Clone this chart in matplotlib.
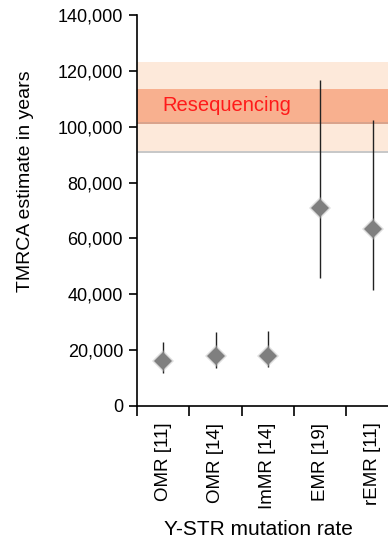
import matplotlib
matplotlib.use('Agg')
import matplotlib.pyplot as plt
import numpy as np

plt.rcParams['font.family'] = ['Liberation Sans', 'DejaVu Sans']

# data
labels = ['OMR [11]', 'OMR [14]', 'ImMR [14]', 'EMR [19]', 'rEMR [11]']
estimate = [15900, 17900, 18000, 70800, 63400]
upper = [23000, 26500, 26900, 116700, 102400]
lower = [11800, 13600, 14000, 45800, 41500]

reseq_outer = (91300, 123200)
reseq_inner = (101700, 113500)
yticks = [0, 20000, 40000, 60000, 80000, 100000, 120000, 140000]

fig = plt.figure(figsize=(3.88, 5.47), dpi=100)
ax = fig.add_axes([0.353, 0.258, 0.675, 0.7146])

x = np.arange(1, len(labels) + 1)

# resequencing bands with a soft shadow under them
ax.axhspan(reseq_outer[0] - 900, reseq_outer[0], color='#c8c8c8', lw=0, zorder=0)
ax.axhspan(*reseq_outer, color='#fde9da', lw=0, zorder=1)
ax.axhspan(reseq_inner[0] - 700, reseq_inner[0], color='#d9a38c', lw=0, zorder=1)
ax.axhspan(*reseq_inner, color='#f8b08f', lw=0, zorder=2)
ax.text(0.99, np.mean(reseq_inner), 'Resequencing', color='#ff1a1a',
        fontsize=14.5, va='center', ha='left', zorder=3)

yerr = [np.array(estimate) - np.array(lower), np.array(upper) - np.array(estimate)]
ax.errorbar(x, estimate, yerr=yerr, fmt='none', ecolor='#222222', elinewidth=1, capsize=0, zorder=4)
ax.plot(x, estimate, 'D', color='#bdbdbd', markersize=11, markeredgewidth=0, alpha=0.5, zorder=5)
ax.plot(x, estimate, 'D', color='#7f7f7f', markersize=9, markeredgewidth=0, zorder=6)

ax.set_xlim(0.5, 5.37)
ax.set_ylim(0, 140000)
ax.set_yticks(yticks)
ax.set_yticklabels([f'{v:,}' for v in yticks], fontsize=13)
ax.set_xticks(x)
ax.set_xticklabels(labels, rotation=90, fontsize=13.5)
ax.tick_params(axis='x', length=0, pad=12)
ax.set_xticks(np.arange(0.5, 6, 1), minor=True)
ax.tick_params(axis='x', which='minor', length=7, width=1.2, direction='out')
ax.tick_params(axis='y', length=6, width=1.2, direction='out', pad=4)

for side in ['top', 'right']:
    ax.spines[side].set_visible(False)
for side in ['left', 'bottom']:
    ax.spines[side].set_linewidth(1.2)

ax.set_ylabel('TMRCA estimate in years', fontsize=14)
ax.yaxis.set_label_coords(-0.427, 0.575)
ax.yaxis.label.set_va('center')
ax.set_xlabel('Y-STR mutation rate', fontsize=15)
ax.xaxis.set_label_coords(0.462, -0.317)
ax.xaxis.label.set_va('center')

fig.savefig('out.png', dpi=100)
